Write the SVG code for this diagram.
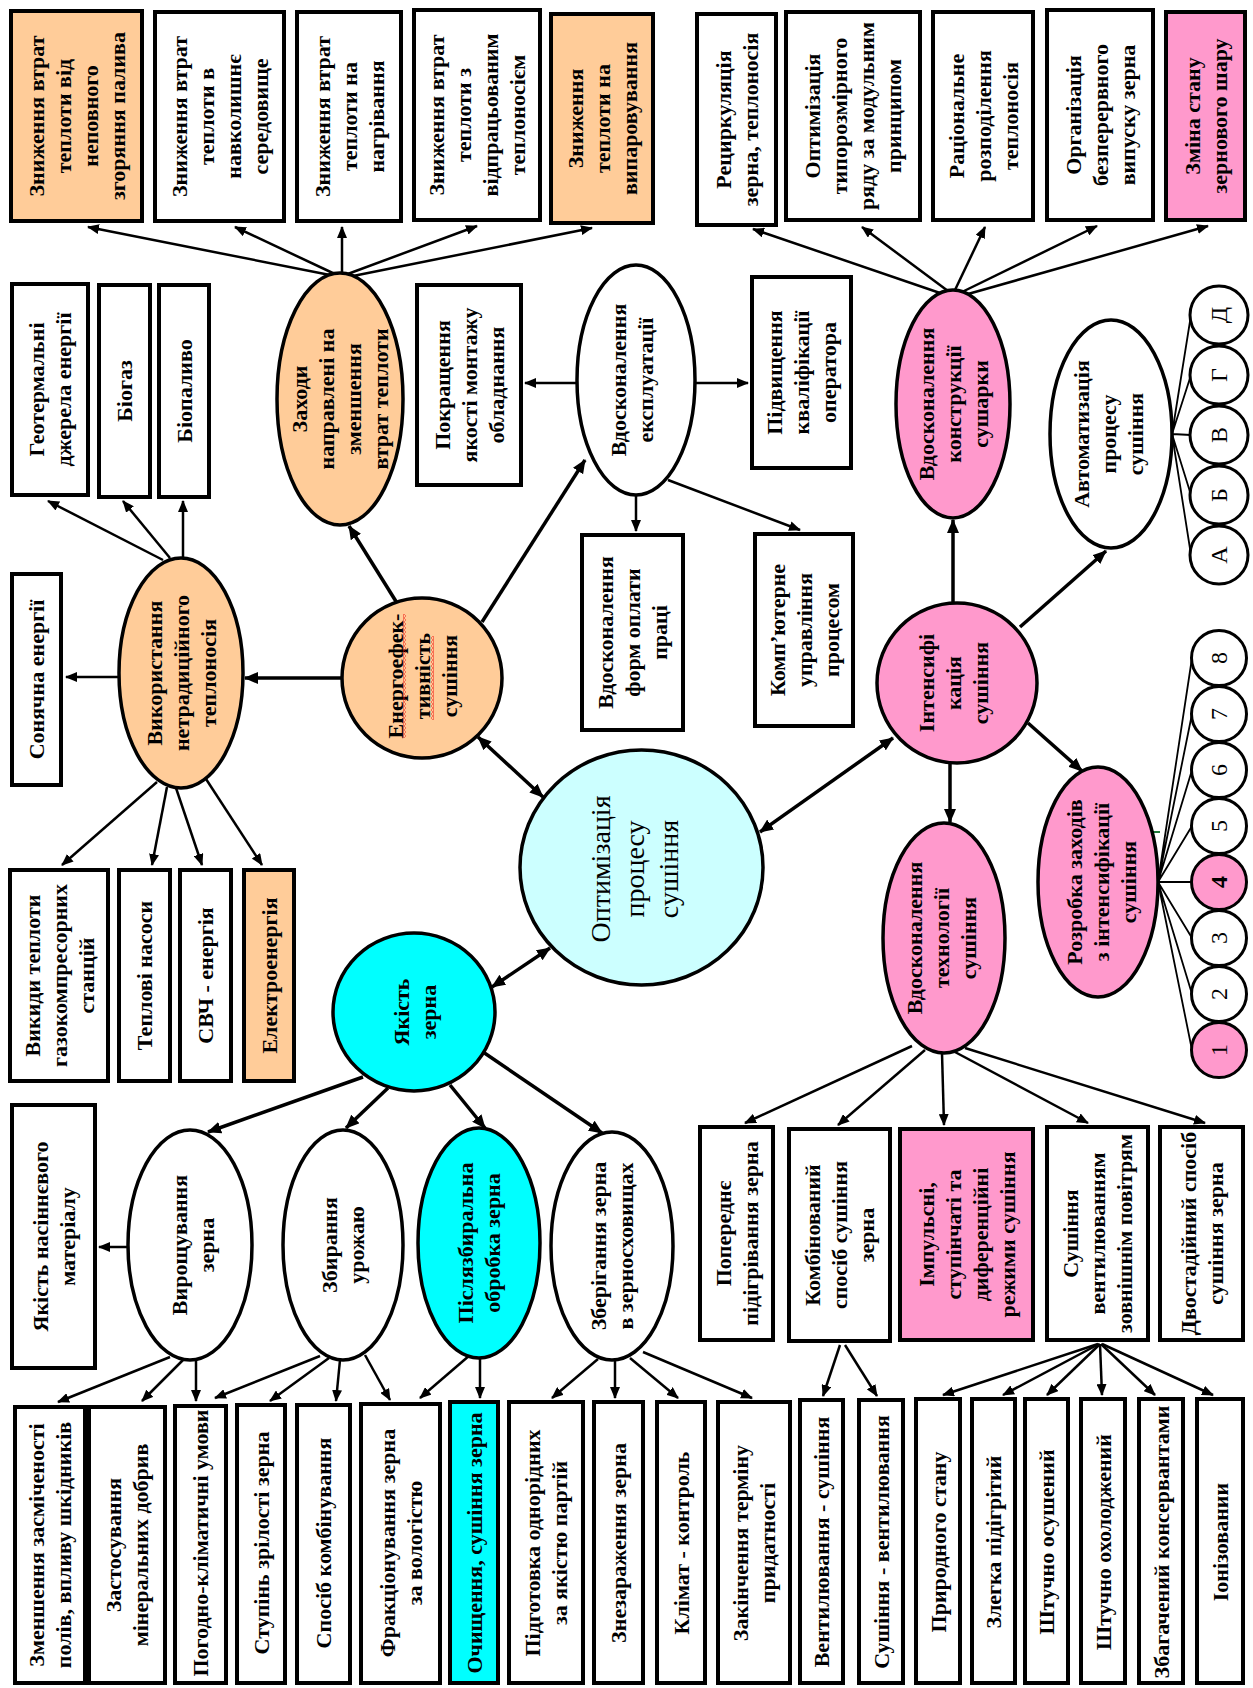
<svg xmlns="http://www.w3.org/2000/svg" width="1253" height="1688" viewBox="0 0 1253 1688">
<defs>
<style>
.bx{stroke:#000;stroke-width:4;fill:#fff}
.el{stroke:#000;stroke-width:3.5;fill:#fff}
.ci{stroke:#000;stroke-width:3;fill:#fff}
.or{fill:#FFCC99}
.pk{fill:#FF99CC}
.cy{fill:#00FFFF}
.lc{fill:#CCFFFF}
.t{font-family:"Liberation Serif","Times New Roman",serif;font-size:22px;font-weight:bold;text-anchor:middle;fill:#000}
.big{font-size:28px;font-weight:normal}
.n{font-size:24px;font-weight:normal}
.nb{font-size:24px;font-weight:bold}
.a{stroke:#000;stroke-width:2.5;fill:none;marker-end:url(#ah)}
.b{stroke:#000;stroke-width:3.5;fill:none;marker-end:url(#ahb)}
.d{marker-start:url(#ahb)}
.f{stroke:#000;stroke-width:1.8;fill:none}
</style>
<marker id="ah" viewBox="0 0 12 10" refX="11" refY="5" markerWidth="12" markerHeight="10" markerUnits="userSpaceOnUse" orient="auto-start-reverse"><path d="M0,0L12,5L0,10z"/></marker>
<marker id="ahb" viewBox="0 0 14 12" refX="13" refY="6" markerWidth="14" markerHeight="12" markerUnits="userSpaceOnUse" orient="auto-start-reverse"><path d="M0,0L14,6L0,12z"/></marker>
<pattern id="sq" x="0" y="0" width="3" height="4" patternUnits="userSpaceOnUse"><path d="M0.5,0L2.5,2L0.5,4" stroke="#e00" stroke-width="0.9" fill="none"/></pattern>
</defs>
<rect x="0" y="0" width="1253" height="1688" fill="#fff"/>

<g id="connectors">
<path class="a" d="M335,276L88,227"/>
<path class="a" d="M337,275L235,227"/>
<path class="a" d="M342,273L342,227"/>
<path class="a" d="M345,275L477,226"/>
<path class="a" d="M348,277L592,228"/>
<path class="a" d="M940,293L753,229"/>
<path class="a" d="M948,291L862,227"/>
<path class="a" d="M955,290L985,227"/>
<path class="a" d="M962,292L1097,226"/>
<path class="a" d="M968,294L1208,226"/>
<path class="a" d="M163,560L48,501"/>
<path class="a" d="M170,558L123,501"/>
<path class="a" d="M183,558L183,501"/>
<path class="a" d="M119,677L66,677"/>
<path class="a" d="M157,782L62,865"/>
<path class="a" d="M167,787L152,865"/>
<path class="a" d="M176,788L202,865"/>
<path class="a" d="M206,779L262,865"/>
<path class="a" d="M577,383L525,383"/>
<path class="a" d="M695,383L748,383"/>
<path class="a" d="M636,495L636,531"/>
<path class="a" d="M668,480L800,530"/>
<path class="a" d="M128,1247L99,1247"/>
<path class="a" d="M170,1357L58,1402"/>
<path class="a" d="M184,1359L142,1401"/>
<path class="a" d="M196,1360L196,1401"/>
<path class="a" d="M320,1356L215,1398"/>
<path class="a" d="M329,1358L270,1401"/>
<path class="a" d="M340,1360L336,1401"/>
<path class="a" d="M365,1355L390,1400"/>
<path class="a" d="M470,1355L420,1398"/>
<path class="a" d="M480,1358L480,1398"/>
<path class="a" d="M598,1359L552,1398"/>
<path class="a" d="M615,1360L615,1398"/>
<path class="a" d="M630,1358L678,1398"/>
<path class="a" d="M643,1352L752,1398"/>
<path class="a" d="M912,1046L745,1123"/>
<path class="a" d="M925,1050L838,1125"/>
<path class="a" d="M942,1053L944,1125"/>
<path class="a" d="M955,1052L1088,1123"/>
<path class="a" d="M965,1048L1205,1123"/>
<path class="a" d="M840,1345L823,1396"/>
<path class="a" d="M845,1345L877,1396"/>
<path class="a" d="M1098,1344L943,1395"/>
<path class="a" d="M1099,1344L1003,1395"/>
<path class="a" d="M1100,1344L1047,1395"/>
<path class="a" d="M1100,1344L1102,1395"/>
<path class="a" d="M1101,1344L1155,1395"/>
<path class="a" d="M1102,1344L1213,1395"/>
<path class="b" d="M342,678L245,678"/>
<path class="b" d="M397,603L349,526"/>
<path class="b" d="M482,622L585,460"/>
<path class="b d" d="M478,737L543,797"/>
<path class="b d" d="M550,948L492,987"/>
<path class="b d" d="M760,832L893,738"/>
<path class="b" d="M363,1077L208,1132"/>
<path class="b" d="M388,1088L346,1128"/>
<path class="b" d="M450,1085L485,1128"/>
<path class="b" d="M483,1052L602,1133"/>
<path class="b" d="M953,603L953,520"/>
<path class="b" d="M1020,627L1106,551"/>
<path class="b" d="M1028,723L1082,771"/>
<path class="b" d="M950,763L950,822"/>
<path class="f" d="M1172,434L1191,555M1172,434L1191,495M1172,434L1191,435M1172,434L1191,375M1172,434L1191,315"/>
<path class="f" d="M1158,882L1192,658M1158,882L1192,714M1158,882L1192,770M1158,882L1192,826M1158,882L1192,882M1158,882L1192,938M1158,882L1192,994M1158,882L1192,1050"/>
<path d="M1126,832L1160,832" stroke="#1f7a3a" stroke-width="2"/>
</g>

<g id="n_t1"><rect class="bx or" x="11" y="11" width="131" height="210"/><text class="t" transform="translate(76.5,116) rotate(-90)"><tspan x="0" y="-33">Зниження втрат</tspan><tspan x="0" y="-6">теплоти від</tspan><tspan x="0" y="21">неповного</tspan><tspan x="0" y="48">згоряння палива</tspan></text></g>
<g id="n_t2"><rect class="bx" x="155" y="12" width="129" height="209"/><text class="t" transform="translate(219.5,116.5) rotate(-90)"><tspan x="0" y="-33">Зниження втрат</tspan><tspan x="0" y="-6">теплоти в</tspan><tspan x="0" y="21">навколишнє</tspan><tspan x="0" y="48">середовище</tspan></text></g>
<g id="n_t3"><rect class="bx" x="297" y="12" width="104" height="209"/><text class="t" transform="translate(349,116.5) rotate(-90)"><tspan x="0" y="-19.5">Зниження втрат</tspan><tspan x="0" y="7.5">теплоти на</tspan><tspan x="0" y="34.5">нагрівання</tspan></text></g>
<g id="n_t4"><rect class="bx" x="414" y="10" width="126" height="210"/><text class="t" transform="translate(477,115) rotate(-90)"><tspan x="0" y="-33">Зниження втрат</tspan><tspan x="0" y="-6">теплоти з</tspan><tspan x="0" y="21">відпрацьованим</tspan><tspan x="0" y="48">теплоносієм</tspan></text></g>
<g id="n_t5"><rect class="bx or" x="551" y="14" width="102" height="209"/><text class="t" transform="translate(602,118.5) rotate(-90)"><tspan x="0" y="-19.5">Зниження</tspan><tspan x="0" y="7.5">теплоти на</tspan><tspan x="0" y="34.5">випаровування</tspan></text></g>
<g id="n_t6"><rect class="bx" x="697" y="14" width="79" height="211"/><text class="t" transform="translate(736.5,119.5) rotate(-90)"><tspan x="0" y="-6">Рециркуляція</tspan><tspan x="0" y="21">зерна, теплоносія</tspan></text></g>
<g id="n_t7"><rect class="bx" x="786" y="12" width="134" height="208"/><text class="t" transform="translate(853,116) rotate(-90)"><tspan x="0" y="-33">Оптимізація</tspan><tspan x="0" y="-6">типорозмірного</tspan><tspan x="0" y="21">ряду за модульним</tspan><tspan x="0" y="48">принципом</tspan></text></g>
<g id="n_t8"><rect class="bx" x="933" y="12" width="100" height="208"/><text class="t" transform="translate(983,116) rotate(-90)"><tspan x="0" y="-19.5">Раціональне</tspan><tspan x="0" y="7.5">розподілення</tspan><tspan x="0" y="34.5">теплоносія</tspan></text></g>
<g id="n_t9"><rect class="bx" x="1047" y="10" width="106" height="210"/><text class="t" transform="translate(1100,115) rotate(-90)"><tspan x="0" y="-19.5">Організація</tspan><tspan x="0" y="7.5">безперервного</tspan><tspan x="0" y="34.5">випуску зерна</tspan></text></g>
<g id="n_t10"><rect class="bx pk" x="1166" y="12" width="79" height="208"/><text class="t" transform="translate(1205.5,116) rotate(-90)"><tspan x="0" y="-6">Зміна стану</tspan><tspan x="0" y="21">зернового шару</tspan></text></g>

<g id="n_geo"><rect class="bx" x="12" y="284" width="76" height="211"/><text class="t" transform="translate(50,389.5) rotate(-90)"><tspan x="0" y="-6">Геотермальні</tspan><tspan x="0" y="21">джерела енергії</tspan></text></g>
<g id="n_biogas"><rect class="bx" x="99" y="285" width="51" height="212"/><text class="t" transform="translate(124.5,391) rotate(-90)"><tspan x="0" y="7.5">Біогаз</tspan></text></g>
<g id="n_biofuel"><rect class="bx" x="159" y="285" width="50" height="212"/><text class="t" transform="translate(184,391) rotate(-90)"><tspan x="0" y="7.5">Біопаливо</tspan></text></g>
<g id="n_sun"><rect class="bx" x="12" y="574" width="49" height="211"/><text class="t" transform="translate(36.5,679.5) rotate(-90)"><tspan x="0" y="7.5">Сонячна енергії</tspan></text></g>
<g id="n_pokr"><rect class="bx" x="417" y="285" width="104" height="200"/><text class="t" transform="translate(469,385) rotate(-90)"><tspan x="0" y="-19.5">Покращення</tspan><tspan x="0" y="7.5">якості  монтажу</tspan><tspan x="0" y="34.5">обладнання</tspan></text></g>
<g id="n_pidv"><rect class="bx" x="752" y="277" width="99" height="191"/><text class="t" transform="translate(801.5,372.5) rotate(-90)"><tspan x="0" y="-19.5">Підвищення</tspan><tspan x="0" y="7.5">кваліфікації</tspan><tspan x="0" y="34.5">оператора</tspan></text></g>
<g id="n_forms"><rect class="bx" x="582" y="535" width="101" height="195"/><text class="t" transform="translate(632.5,632.5) rotate(-90)"><tspan x="0" y="-19.5">Вдосконалення</tspan><tspan x="0" y="7.5">форм оплати</tspan><tspan x="0" y="34.5">праці</tspan></text></g>
<g id="n_comp"><rect class="bx" x="755" y="534" width="98" height="192"/><text class="t" transform="translate(804,630) rotate(-90)"><tspan x="0" y="-19.5">Комп’ютерне</tspan><tspan x="0" y="7.5">управління</tspan><tspan x="0" y="34.5">процесом</tspan></text></g>
<g id="n_vykydy"><rect class="bx" x="10" y="870" width="98" height="211"/><text class="t" transform="translate(59,975.5) rotate(-90)"><tspan x="0" y="-19.5">Викиди теплоти</tspan><tspan x="0" y="7.5">газокомпресорних</tspan><tspan x="0" y="34.5">станцій</tspan></text></g>
<g id="n_teplovi"><rect class="bx" x="119" y="870" width="51" height="211"/><text class="t" transform="translate(144.5,975.5) rotate(-90)"><tspan x="0" y="7.5">Теплові насоси</tspan></text></g>
<g id="n_svch"><rect class="bx" x="180" y="870" width="51" height="211"/><text class="t" transform="translate(205.5,975.5) rotate(-90)"><tspan x="0" y="7.5">СВЧ - енергія</tspan></text></g>
<g id="n_elektro"><rect class="bx or" x="244" y="870" width="50" height="211"/><text class="t" transform="translate(269,975.5) rotate(-90)"><tspan x="0" y="7.5">Електроенергія</tspan></text></g>
<g id="n_yaknas"><rect class="bx" x="12" y="1105" width="83" height="263"/><text class="t" transform="translate(53.5,1236.5) rotate(-90)"><tspan x="0" y="-6">Якість насіннєвого</tspan><tspan x="0" y="21">матеріалу</tspan></text></g>
<g id="n_poper"><rect class="bx" x="700" y="1127" width="73" height="213"/><text class="t" transform="translate(736.5,1233.5) rotate(-90)"><tspan x="0" y="-6">Попереднє</tspan><tspan x="0" y="21">підігрівання зерна</tspan></text></g>
<g id="n_kombin"><rect class="bx" x="789" y="1129" width="101" height="212"/><text class="t" transform="translate(839.5,1235) rotate(-90)"><tspan x="0" y="-19.5">Комбінований</tspan><tspan x="0" y="7.5">спосіб сушіння</tspan><tspan x="0" y="34.5">зерна</tspan></text></g>
<g id="n_impuls"><rect class="bx pk" x="900" y="1129" width="133" height="211"/><text class="t" transform="translate(966.5,1234.5) rotate(-90)"><tspan x="0" y="-33">Імпульсні,</tspan><tspan x="0" y="-6">ступінчаті та</tspan><tspan x="0" y="21">диференційні</tspan><tspan x="0" y="48">режими сушіння</tspan></text></g>
<g id="n_sushvent"><rect class="bx" x="1047" y="1127" width="101" height="213"/><text class="t" transform="translate(1097.5,1233.5) rotate(-90)"><tspan x="0" y="-19.5">Сушіння</tspan><tspan x="0" y="7.5">вентилюванням</tspan><tspan x="0" y="34.5">зовнішнім повітрям</tspan></text></g>
<g id="n_dvost"><rect class="bx" x="1160" y="1127" width="83" height="213"/><text class="t" transform="translate(1201.5,1233.5) rotate(-90)"><tspan x="0" y="-6">Двостадійний спосіб</tspan><tspan x="0" y="21">сушіння зерна</tspan></text></g>

<g id="n_b1"><rect class="bx" x="15" y="1407" width="70" height="276"/><text class="t" transform="translate(50,1545) rotate(-90)"><tspan x="0" y="-6">Зменшення засміченості</tspan><tspan x="0" y="21">полів, впливу шкідників</tspan></text></g>
<g id="n_b2"><rect class="bx" x="89" y="1407" width="76" height="276"/><text class="t" transform="translate(127,1545) rotate(-90)"><tspan x="0" y="-6">Застосування</tspan><tspan x="0" y="21">мінеральних добрив</tspan></text></g>
<g id="n_b3"><rect class="bx" x="175" y="1406" width="51" height="277"/><text class="t" transform="translate(200.5,1543) rotate(-90)"><tspan x="0" y="7.5">Погодно-кліматичні умови</tspan></text></g>
<g id="n_b4"><rect class="bx" x="237" y="1405" width="48" height="278"/><text class="t" transform="translate(261,1543) rotate(-90)"><tspan x="0" y="7.5">Ступінь зрілості зерна</tspan></text></g>
<g id="n_b5"><rect class="bx" x="297" y="1405" width="53" height="278"/><text class="t" transform="translate(323.5,1543) rotate(-90)"><tspan x="0" y="7.5">Спосіб комбінування</tspan></text></g>
<g id="n_b6"><rect class="bx" x="361" y="1404" width="79" height="279"/><text class="t" transform="translate(400.5,1543) rotate(-90)"><tspan x="0" y="-6">Фракціонування  зерна</tspan><tspan x="0" y="21">за вологістю</tspan></text></g>
<g id="n_b7"><rect class="bx cy" x="450" y="1402" width="48" height="281"/><text class="t" transform="translate(474,1543) rotate(-90)"><tspan x="0" y="7.5">Очищення, сушіння зерна</tspan></text></g>
<g id="n_b8"><rect class="bx" x="509" y="1402" width="74" height="281"/><text class="t" transform="translate(546,1543) rotate(-90)"><tspan x="0" y="-6">Підготовка однорідних</tspan><tspan x="0" y="21">за якістю партій</tspan></text></g>
<g id="n_b9"><rect class="bx" x="594" y="1402" width="49" height="281"/><text class="t" transform="translate(618.5,1543) rotate(-90)"><tspan x="0" y="7.5">Знезараження зерна</tspan></text></g>
<g id="n_b10"><rect class="bx" x="657" y="1402" width="48" height="281"/><text class="t" transform="translate(681,1543) rotate(-90)"><tspan x="0" y="7.5">Клімат - контроль</tspan></text></g>
<g id="n_b11"><rect class="bx" x="718" y="1402" width="72" height="281"/><text class="t" transform="translate(754,1543) rotate(-90)"><tspan x="0" y="-6">Закінчення терміну</tspan><tspan x="0" y="21">придатності</tspan></text></g>
<g id="n_b12"><rect class="bx" x="800" y="1400" width="43" height="283"/><text class="t" transform="translate(821.5,1542) rotate(-90)"><tspan x="0" y="7.5">Вентилювання - сушіння</tspan></text></g>
<g id="n_b13"><rect class="bx" x="859" y="1400" width="44" height="283"/><text class="t" transform="translate(881,1542) rotate(-90)"><tspan x="0" y="7.5">Сушіння - вентилювання</tspan></text></g>
<g id="n_b14"><rect class="bx" x="916" y="1399" width="44" height="284"/><text class="t" transform="translate(938,1542) rotate(-90)"><tspan x="0" y="7.5">Природного стану</tspan></text></g>
<g id="n_b15"><rect class="bx" x="972" y="1399" width="43" height="284"/><text class="t" transform="translate(993.5,1542) rotate(-90)"><tspan x="0" y="7.5">Злегка підігрітий</tspan></text></g>
<g id="n_b16"><rect class="bx" x="1025" y="1399" width="43" height="284"/><text class="t" transform="translate(1046.5,1542) rotate(-90)"><tspan x="0" y="7.5">Штучно осушений</tspan></text></g>
<g id="n_b17"><rect class="bx" x="1081" y="1399" width="44" height="284"/><text class="t" transform="translate(1103,1542) rotate(-90)"><tspan x="0" y="7.5">Штучно охолоджений</tspan></text></g>
<g id="n_b18"><rect class="bx" x="1139" y="1399" width="44" height="284"/><text class="t" transform="translate(1161,1542) rotate(-90)"><tspan x="0" y="7.5">Збагачений консервантами</tspan></text></g>
<g id="n_b19"><rect class="bx" x="1197" y="1399" width="46" height="284"/><text class="t" transform="translate(1220,1542) rotate(-90)"><tspan x="0" y="7.5">Іонізовании</tspan></text></g>

<g id="n_zahody"><ellipse class="el or" cx="340" cy="399" rx="63" ry="126"/><text class="t" transform="translate(340,399) rotate(-90)"><tspan x="0" y="-33">Заходи</tspan><tspan x="0" y="-6">направлені на</tspan><tspan x="0" y="21">зменшення</tspan><tspan x="0" y="48">втрат теплоти</tspan></text></g>
<g id="n_vykor"><ellipse class="el or" cx="181" cy="673" rx="62" ry="115"/><text class="t" transform="translate(181,673) rotate(-90)"><tspan x="0" y="-19.5">Використання</tspan><tspan x="0" y="7.5">нетрадиційного</tspan><tspan x="0" y="34.5">теплоносія</tspan></text></g>
<g id="n_energo"><circle class="el or" cx="422" cy="678" r="80"/><text class="t" transform="translate(422,676) rotate(-90)"><tspan x="0" y="-19.5">Енергоефек-</tspan><tspan x="0" y="7.5">тивність</tspan><tspan x="0" y="34.5">сушіння</tspan></text><rect x="403" y="614" width="3" height="124" fill="url(#sq)"/><rect x="431" y="636" width="3" height="84" fill="url(#sq)"/></g>
<g id="n_ekspl"><ellipse class="el" cx="636" cy="380" rx="59" ry="115"/><text class="t" transform="translate(632,380) rotate(-90)"><tspan x="0" y="-6">Вдосконалення</tspan><tspan x="0" y="21">експлуатації</tspan></text></g>
<g id="n_optim"><ellipse class="el lc" cx="641.5" cy="867.5" rx="121.5" ry="117.5"/><text class="t big" transform="translate(634,869) rotate(-90)"><tspan x="0" y="-24.5">Оптимізація</tspan><tspan x="0" y="9.5">процесу</tspan><tspan x="0" y="43.5">сушіння</tspan></text></g>
<g id="n_yakist"><ellipse class="el cy" cx="414" cy="1012" rx="81" ry="79"/><text class="t" transform="translate(415,1012) rotate(-90)"><tspan x="0" y="-6">Якість</tspan><tspan x="0" y="21">зерна</tspan></text></g>
<g id="n_vyrosh"><ellipse class="el" cx="190" cy="1245" rx="62" ry="115"/><text class="t" transform="translate(193,1245) rotate(-90)"><tspan x="0" y="-6">Вирощування</tspan><tspan x="0" y="21">зерна</tspan></text></g>
<g id="n_zbyr"><ellipse class="el" cx="343" cy="1245" rx="60" ry="115"/><text class="t" transform="translate(343,1245) rotate(-90)"><tspan x="0" y="-6">Збирання</tspan><tspan x="0" y="21">урожаю</tspan></text></g>
<g id="n_pislya"><ellipse class="el cy" cx="479" cy="1243" rx="61" ry="115"/><text class="t" transform="translate(479,1243) rotate(-90)"><tspan x="0" y="-6">Післязбиральна</tspan><tspan x="0" y="21">обробка зерна</tspan></text></g>
<g id="n_zberig"><ellipse class="el" cx="612" cy="1246" rx="61" ry="114"/><text class="t" transform="translate(612,1246) rotate(-90)"><tspan x="0" y="-6">Зберігання зерна</tspan><tspan x="0" y="21">в зерносховищах</tspan></text></g>
<g id="n_intens"><circle class="el pk" cx="957" cy="683" r="80"/><text class="t" transform="translate(953,683) rotate(-90)"><tspan x="0" y="-19.5">Інтенсифі</tspan><tspan x="0" y="7.5">кація</tspan><tspan x="0" y="34.5">сушіння</tspan></text></g>
<g id="n_konstr"><ellipse class="el pk" cx="953" cy="404" rx="57" ry="114"/><text class="t" transform="translate(953,404) rotate(-90)"><tspan x="0" y="-19.5">Вдосконалення</tspan><tspan x="0" y="7.5">конструкції</tspan><tspan x="0" y="34.5">сушарки</tspan></text></g>
<g id="n_avto"><ellipse class="el" cx="1111" cy="434" rx="61" ry="114"/><text class="t" transform="translate(1108,434) rotate(-90)"><tspan x="0" y="-19.5">Автоматизація</tspan><tspan x="0" y="7.5">процесу</tspan><tspan x="0" y="34.5">сушіння</tspan></text></g>
<g id="n_rozrob"><ellipse class="el pk" cx="1098" cy="882" rx="60" ry="115"/><text class="t" transform="translate(1101,882) rotate(-90)"><tspan x="0" y="-19.5">Розробка заходів</tspan><tspan x="0" y="7.5">з інтенсифікації</tspan><tspan x="0" y="34.5">сушіння</tspan></text></g>
<g id="n_tekhn"><ellipse class="el pk" cx="944" cy="938" rx="61" ry="115"/><text class="t" transform="translate(941,938) rotate(-90)"><tspan x="0" y="-19.5">Вдосконалення</tspan><tspan x="0" y="7.5">технології</tspan><tspan x="0" y="34.5">сушіння</tspan></text></g>

<g id="n_A"><circle class="ci" cx="1219" cy="555" r="29"/><text class="t n" transform="translate(1219,555) rotate(-90)"><tspan x="0" y="8">А</tspan></text></g>
<g id="n_B"><circle class="ci" cx="1219" cy="495" r="29"/><text class="t n" transform="translate(1219,495) rotate(-90)"><tspan x="0" y="8">Б</tspan></text></g>
<g id="n_V"><circle class="ci" cx="1219" cy="435" r="29"/><text class="t n" transform="translate(1219,435) rotate(-90)"><tspan x="0" y="8">В</tspan></text></g>
<g id="n_G"><circle class="ci" cx="1219" cy="375" r="29"/><text class="t n" transform="translate(1219,375) rotate(-90)"><tspan x="0" y="8">Г</tspan></text></g>
<g id="n_D"><circle class="ci" cx="1219" cy="315" r="29"/><text class="t n" transform="translate(1219,315) rotate(-90)"><tspan x="0" y="8">Д</tspan></text></g>

<g id="n_8"><circle class="ci" cx="1219" cy="658" r="27.5"/><text class="t n" transform="translate(1219,658) rotate(-90)"><tspan x="0" y="8">8</tspan></text></g>
<g id="n_7"><circle class="ci" cx="1219" cy="714" r="27.5"/><text class="t n" transform="translate(1219,714) rotate(-90)"><tspan x="0" y="8">7</tspan></text></g>
<g id="n_6"><circle class="ci" cx="1219" cy="770" r="27.5"/><text class="t n" transform="translate(1219,770) rotate(-90)"><tspan x="0" y="8">6</tspan></text></g>
<g id="n_5"><circle class="ci" cx="1219" cy="826" r="27.5"/><text class="t n" transform="translate(1219,826) rotate(-90)"><tspan x="0" y="8">5</tspan></text></g>
<g id="n_4"><circle class="ci pk" cx="1219" cy="882" r="27.5"/><text class="t nb" transform="translate(1219,882) rotate(-90)"><tspan x="0" y="8">4</tspan></text></g>
<g id="n_3"><circle class="ci" cx="1219" cy="938" r="27.5"/><text class="t n" transform="translate(1219,938) rotate(-90)"><tspan x="0" y="8">3</tspan></text></g>
<g id="n_2"><circle class="ci" cx="1219" cy="994" r="27.5"/><text class="t n" transform="translate(1219,994) rotate(-90)"><tspan x="0" y="8">2</tspan></text></g>
<g id="n_1"><circle class="ci pk" cx="1219" cy="1050" r="27.5"/><text class="t n" transform="translate(1219,1050) rotate(-90)"><tspan x="0" y="8">1</tspan></text></g>
</svg>
